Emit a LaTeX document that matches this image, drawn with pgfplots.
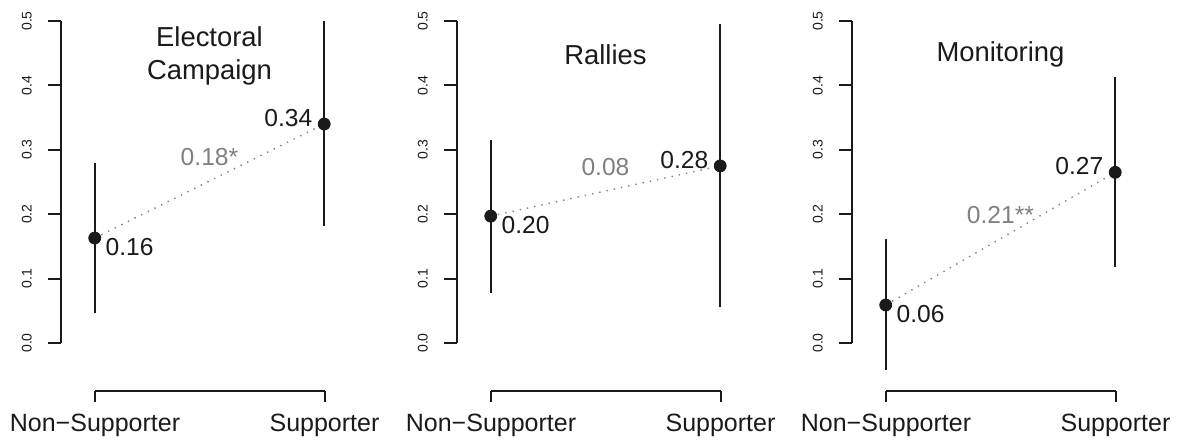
\documentclass[border=0pt]{standalone}
\usepackage{pgfplots}
\pgfplotsset{compat=1.18}
\usepackage{fontspec}
\setmainfont{Liberation Sans}
\definecolor{inkc}{RGB}{26,26,26}
\definecolor{diffc}{RGB}{128,128,128}
\newcommand{\ticksize}{\fontsize{7}{8}\selectfont}
\newcommand{\labsize}{\fontsize{12.5}{14}\selectfont}
\newcommand{\valsize}{\fontsize{12.3}{14}\selectfont}
\newcommand{\titsize}{\fontsize{13.7}{16}\selectfont}
\pgfplotsset{
  yax/.style={
    anchor=south west, scale only axis, width=131.6pt, height=161pt,
    xmin=-0.147, xmax=1, ymin=0, ymax=0.5, clip=false,
    axis y line=left, axis x line=none, xtick=\empty,
    y axis line style={-, line width=1pt, color=inkc},
    ytick={0,0.1,0.2,0.3,0.4,0.5}, yticklabels={,,,,,},
    tick align=outside, major tick length=6.5pt,
    major tick style={line width=1pt, color=inkc},
  },
  xax/.style={
    anchor=south west, scale only axis, width=114.75pt, height=20pt,
    xmin=0, xmax=1, ymin=0, ymax=1, clip=false,
    axis x line=bottom, axis y line=none, ytick=\empty,
    x axis line style={-, line width=1pt, color=inkc},
    xtick={0,1}, xticklabels={,},
    tick align=outside, major tick length=5.75pt,
    major tick style={line width=1pt, color=inkc},
  },
  ci/.style={line width=1pt, color=inkc},
  pt/.style={only marks, mark=*, mark size=3pt, color=inkc},
  dl/.style={color=diffc, line width=0.7pt, dash pattern=on 0.7pt off 3pt},
}
\tikzset{
  nslab/.style={anchor=north west, inner sep=0pt, xshift=5.25pt, font=\valsize, text=inkc},
  slab/.style={anchor=base east, inner sep=0pt, xshift=-5.75pt, yshift=-1.1pt, font=\valsize, text=inkc},
  difflab/.style={anchor=base, inner sep=0pt, yshift=7.6pt, font=\valsize, text=diffc},
  titl/.style={anchor=base, inner sep=0pt, font=\titsize, text=inkc},
  ytl/.style={rotate=90, anchor=base, inner sep=0pt, font=\ticksize, text=inkc},
  xtl/.style={anchor=base, inner sep=0pt, font=\labsize, text=inkc},
}
\newcommand{\ylabs}{%
  \node[ytl] at (axis cs:-0.2747,0) {0.0};
  \node[ytl] at (axis cs:-0.2747,0.1) {0.1};
  \node[ytl] at (axis cs:-0.2747,0.2) {0.2};
  \node[ytl] at (axis cs:-0.2747,0.3) {0.3};
  \node[ytl] at (axis cs:-0.2747,0.4) {0.4};
  \node[ytl] at (axis cs:-0.2747,0.5) {0.5};
}
\newcommand{\xlabs}{%
  \node[xtl] at (axis cs:0,-1.03) {Non−Supporter};
  \node[xtl] at (axis cs:1,-1.03) {Supporter};
}
\begin{document}
\begin{tikzpicture}
\useasboundingbox (0,0) rectangle (588.5pt,219.5pt);
% ---------- Panel 1 ----------
\begin{axis}[yax, at={(30.5pt,48pt)}]
\addplot[dl] coordinates {(0,0.163) (1,0.340)};
\addplot[ci] coordinates {(0,0.046) (0,0.279)};
\addplot[ci] coordinates {(1,0.181) (1,0.500)};
\addplot[pt] coordinates {(0,0.163) (1,0.340)};
\node[nslab] at (axis cs:0,0.163) {0.16};
\node[slab] at (axis cs:1,0.340) {0.34};
\node[difflab] at (axis cs:0.5,0.2515) {0.18*};
\node[titl] at (axis cs:0.5,0.4605) {Electoral};
\node[titl] at (axis cs:0.5,0.4090) {Campaign};
\ylabs
\end{axis}
\begin{axis}[xax, at={(47.5pt,24.25pt)}]
\addplot[draw=none] coordinates {(0,0.5)};
\xlabs
\end{axis}
% ---------- Panel 2 ----------
\begin{axis}[yax, at={(228.5pt,48pt)}]
\addplot[dl] coordinates {(0,0.197) (1,0.275)};
\addplot[ci] coordinates {(0,0.077) (0,0.315)};
\addplot[ci] coordinates {(1,0.056) (1,0.495)};
\addplot[pt] coordinates {(0,0.197) (1,0.275)};
\node[nslab] at (axis cs:0,0.197) {0.20};
\node[slab] at (axis cs:1,0.275) {0.28};
\node[difflab] at (axis cs:0.5,0.236) {0.08};
\node[titl] at (axis cs:0.5,0.433) {Rallies};
\ylabs
\end{axis}
\begin{axis}[xax, at={(245.5pt,24.25pt)}]
\addplot[draw=none] coordinates {(0,0.5)};
\xlabs
\end{axis}
% ---------- Panel 3 ----------
\begin{axis}[yax, at={(426pt,48pt)}]
\addplot[dl] coordinates {(0,0.059) (1,0.265)};
\addplot[ci] coordinates {(0,-0.042) (0,0.161)};
\addplot[ci] coordinates {(1,0.118) (1,0.413)};
\addplot[pt] coordinates {(0,0.059) (1,0.265)};
\node[nslab] at (axis cs:0,0.059) {0.06};
\node[slab] at (axis cs:1,0.265) {0.27};
\node[difflab] at (axis cs:0.5,0.162) {0.21**};
\node[titl] at (axis cs:0.5,0.4377) {Monitoring};
\ylabs
\end{axis}
\begin{axis}[xax, at={(443pt,24.25pt)}]
\addplot[draw=none] coordinates {(0,0.5)};
\xlabs
\end{axis}
\end{tikzpicture}
\end{document}
